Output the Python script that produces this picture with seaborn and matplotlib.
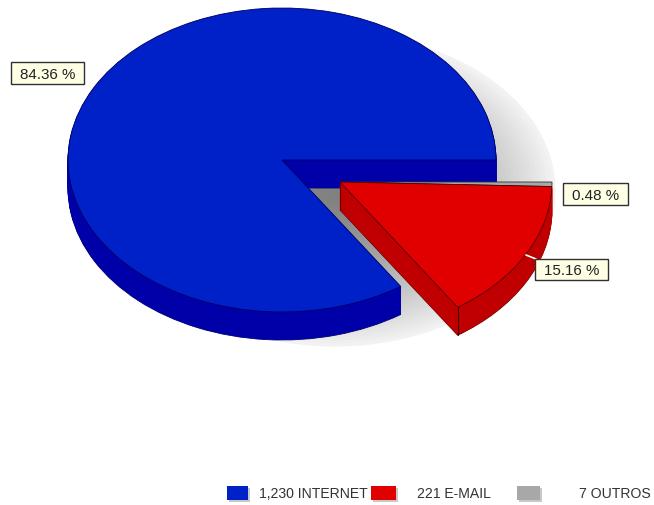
import numpy as np
import matplotlib
matplotlib.use("Agg")
import matplotlib.pyplot as plt
import seaborn as sns
from matplotlib.patches import Rectangle

sns.set_theme(style="white")
plt.rcParams['font.family'] = ['Liberation Sans', 'DejaVu Sans']

# data
categories = ['OUTROS', 'E-MAIL', 'INTERNET']
counts = [7, 221, 1230]
percent_labels = ['0.48 %', '15.16 %', '84.36 %']
legend_labels = ['1,230 INTERNET', '221 E-MAIL', '7 OUTROS']

top_colors = ['#A8A8A8', '#E00000', '#0020C8']
side_colors = ['#A8A8A8', '#C00000', '#0000A8']

W, H = 654, 505
RX, RY = 214, 152
RED_RX = 212
DEPTH = 28
SQUASH = RY / RX


def yd(py):
    # pixel row -> data y, the axes are stretched so a pie comes out as an ellipse
    return (H - py) / SQUASH


fig = plt.figure(figsize=(W / 100, H / 100), dpi=100)
ax = fig.add_axes([0, 0, 1, 1])


def draw_slice(idx, cx, cy, color, edge=None, lw=0.6, radius=RX):
    colors = ['none'] * 3
    colors[idx] = color
    wedges, _ = ax.pie(counts, colors=colors, startangle=0, counterclock=False,
                       radius=radius, center=(cx, yd(cy)),
                       wedgeprops={'linewidth': 0})
    w = wedges[idx]
    w.set_facecolor(color)
    w.set_edgecolor(edge if edge else color)
    w.set_linewidth(lw)
    return w


# soft drop shadow, light rim to dark middle
levels = np.linspace(1.0, 0.06, 48)
for r in levels:
    g = 0.5 + 0.45 * r ** 1.5
    ax.pie([1], colors=[(g, g, g)], radius=RX * 1.03 * r, center=(335, yd(190)),
           wedgeprops={'linewidth': 0})

# internet: extrusion then top
bcx, bcy = 282, 160
for d in range(DEPTH, 0, -1):
    draw_slice(2, bcx, bcy + d, side_colors[2],
               edge='#000070' if d == DEPTH else None)
draw_slice(2, bcx, bcy, top_colors[2], edge='#000060')

# exploded slices
rcx, rcy = 340, 182
draw_slice(0, rcx, rcy, top_colors[0], edge='#303030', radius=RED_RX)
for d in range(DEPTH, 0, -1):
    draw_slice(1, rcx, rcy + d, side_colors[1],
               edge='#600000' if d == DEPTH else None, radius=RED_RX)
draw_slice(1, rcx, rcy, top_colors[1], edge='#500000', radius=RED_RX)

# corner edge of the red slice, taken from the slice angle
end = np.deg2rad(-360 * sum(counts[:2]) / sum(counts))
tipx = rcx + RED_RX * np.cos(end)
tipy = rcy - RED_RX * SQUASH * np.sin(end)
ax.plot([tipx, tipx], [yd(tipy), yd(tipy + DEPTH)], color='#400000', lw=0.8)
ax.plot([rcx, rcx], [yd(rcy), yd(rcy + DEPTH)], color='#600000', lw=0.6)

# leader ticks
ax.plot([526, 536], [yd(255), yd(259)], color='white', lw=1.2)

# percent labels, box given as left, right, top, bottom in pixels
boxes = [(563, 628, 183, 205), (535, 608, 259, 280), (11, 84, 62, 84)]
for label, (x0, x1, y0, y1) in zip(percent_labels, boxes):
    ax.add_patch(Rectangle((x0, yd(y1)), x1 - x0, (y1 - y0) / SQUASH, facecolor='#FFFFE6',
                           edgecolor='#303030', linewidth=1, zorder=5))
    ax.text((x0 + x1) / 2, yd((y0 + y1) / 2), label, ha='center', va='center_baseline',
            fontsize=10.9, color='#222222', zorder=6)

# legend
swatches = [(227, 248), (371, 396), (517, 540)]
text_x = [259, 417, 579]
legend_colors = [top_colors[2], top_colors[1], top_colors[0]]
for (x0, x1), tx, c, label in zip(swatches, text_x, legend_colors, legend_labels):
    ax.add_patch(Rectangle((x0 + 2, yd(502)), x1 - x0, 14 / SQUASH, facecolor='#C8C8C8',
                           edgecolor='none'))
    ax.add_patch(Rectangle((x0, yd(500)), x1 - x0, 14 / SQUASH, facecolor=c, edgecolor='none'))
    ax.text(tx, yd(493), label, ha='left', va='center_baseline', fontsize=10.1, color='#333333')

ax.set_aspect('auto')
ax.set_xlim(0, W)
ax.set_ylim(0, H / SQUASH)
ax.axis('off')

fig.savefig('out.png', dpi=100, facecolor='white')
